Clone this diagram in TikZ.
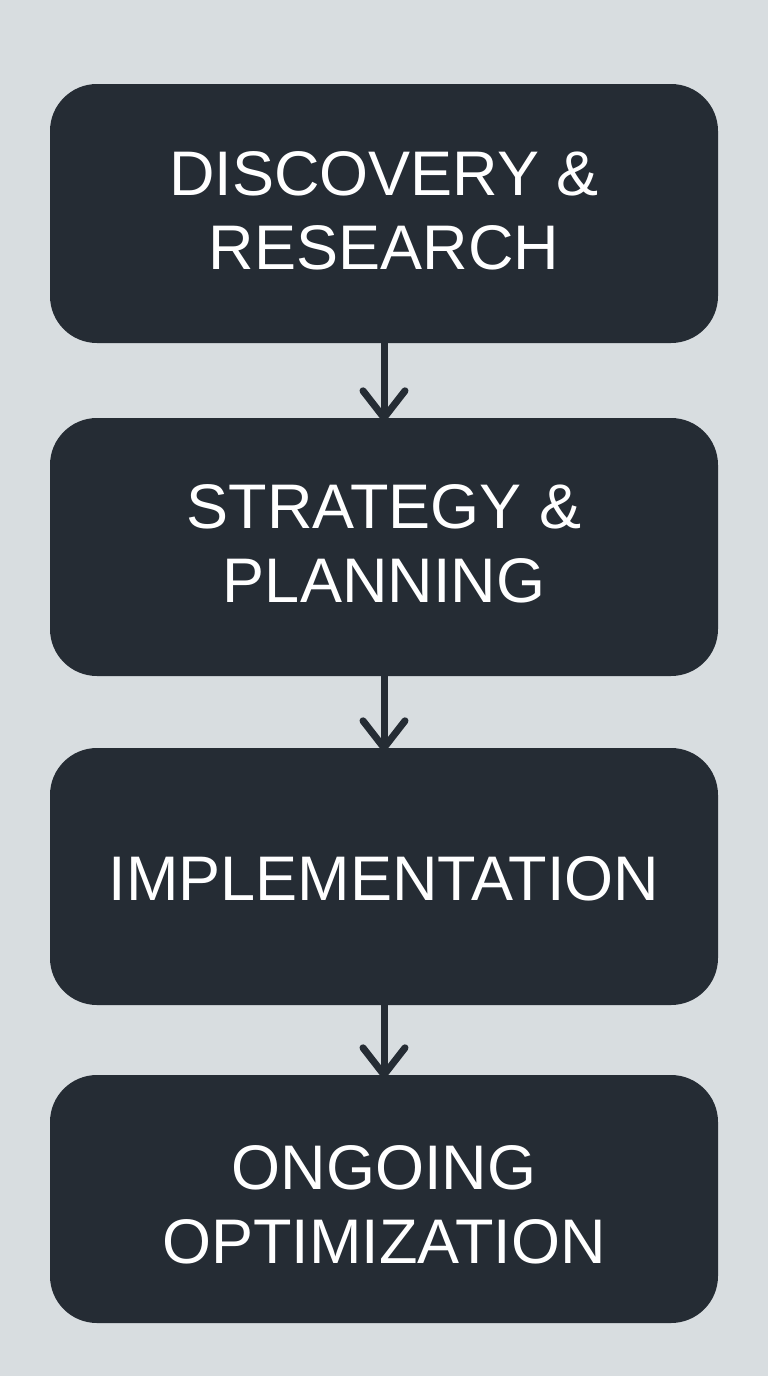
\documentclass[tikz,border=0pt]{standalone}
\usepackage{fontspec}
\setmainfont{Liberation Sans}
\usetikzlibrary{calc}
\definecolor{bgc}{RGB}{216,221,224}
\definecolor{boxc}{RGB}{37,44,52}
\tikzset{
  stagebox/.style={draw=none, fill=boxc, rounded corners=47pt, minimum width=668pt,
    inner sep=0pt},
  stagetext/.style={inner sep=0pt, text=white, align=center,
    font=\fontsize{63}{74}\selectfont},
  linkline/.style={draw=boxc, line width=7pt, line cap=round, line join=round}
}
\begin{document}
\begin{tikzpicture}[x=1pt,y=-1pt]
\fill[bgc] (0,0) rectangle (768,1376);
\useasboundingbox (0,0) rectangle (768,1376);
\node[stagebox, minimum height=259pt] (s1) at (384,213.5) {};
\node[stagebox, minimum height=258pt] (s2) at (384,547) {};
\node[stagebox, minimum height=257pt] (s3) at (384,876.5) {};
\node[stagebox, minimum height=248pt] (s4) at (384,1199) {};
\node[stagetext] (t1) at (384,211) {DISCOVERY \&\\RESEARCH};
\node[stagetext] (t2) at (384,544) {STRATEGY \&\\PLANNING};
\node[stagetext] (t3) at (384,879) {IMPLEMENTATION};
\node[stagetext] (t4) at (384,1205) {ONGOING\\OPTIMIZATION};
\foreach \a/\b in {s1/s2, s2/s3, s3/s4}{
  \draw[linkline, line cap=butt] (\a.south) -- (\b.north);
  \draw[linkline] ($(\b.north)+(-21,-27)$) -- (\b.north) -- ($(\b.north)+(21,-27)$);
}
\end{tikzpicture}
\end{document}
